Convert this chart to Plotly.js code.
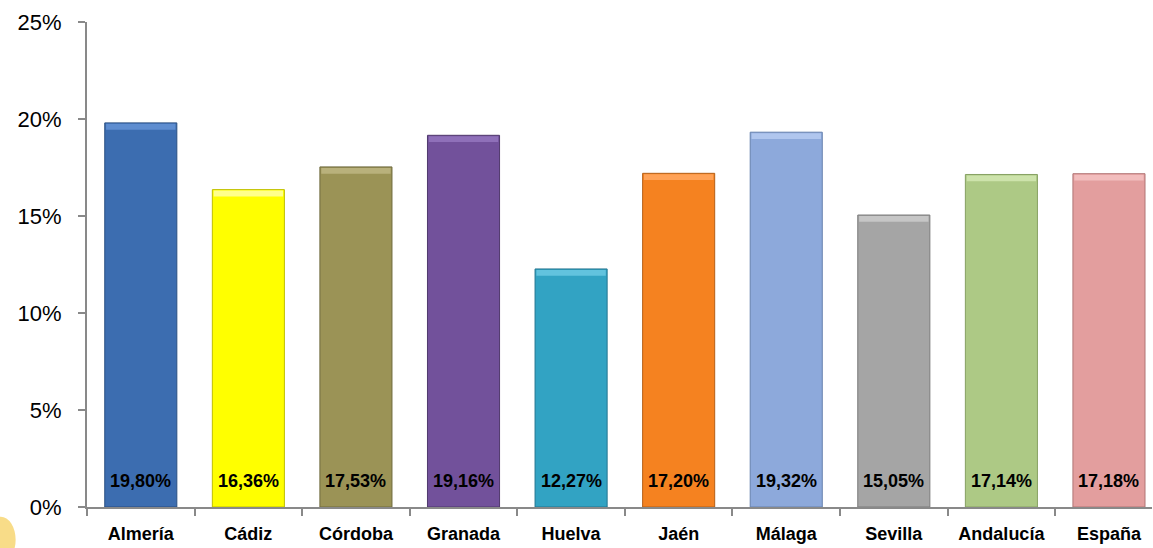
<!DOCTYPE html>
<html>
<head>
<meta charset="utf-8">
<script src="https://cdn.plot.ly/plotly-3.0.1.min.js"></script>
<style>html,body{margin:0;padding:0;background:#fff;}#chart{width:1153px;height:548px;}</style>
</head>
<body>
<div id="chart"></div>
<script>
const categories = ["Almería","Cádiz","Córdoba","Granada","Huelva","Jaén","Málaga","Sevilla","Andalucía","España"];
const values = [19.80, 16.36, 17.53, 19.16, 12.27, 17.20, 19.32, 15.05, 17.14, 17.18];
const valueLabels = ["19,80%","16,36%","17,53%","19,16%","12,27%","17,20%","19,32%","15,05%","17,14%","17,18%"];
const barColors = ["#3C6DB0","#FFFF00","#9B9356","#72519B","#32A3C3","#F58220","#8DA9DB","#A5A5A5","#ADC985","#E39E9E"];
const lineColors = ["#2A4F82","#BFBF00","#6F6A3D","#4F386C","#237590","#B45F17","#6680AD","#7A7A7A","#86A062","#B07474"];
const bevelColors = ["#5E8DD0","#FFFF8C","#B9B17C","#8F70B9","#62C3DE","#FFA257","#B0C6EE","#C6C6C6","#CDE3AB","#F2BDBD"];
const yTickVals = [0,5,10,15,20,25];
const yTickText = ["0%","5%","10%","15%","20%","25%"];

const bold = '"Liberation Sans", Arial, sans-serif';
const bevelDepth = 0.3;

const trace = {
  type: 'bar',
  x: categories,
  y: values,
  width: 0.67,
  marker: {color: barColors, line: {color: lineColors, width: 1}},
  hoverinfo: 'skip'
};

const bevel = {
  type: 'bar',
  x: categories,
  y: values.map(() => bevelDepth),
  base: values.map(v => v - bevelDepth - 0.05),
  width: 0.645,
  marker: {color: bevelColors, line: {width: 0}},
  hoverinfo: 'skip'
};

const annotations = categories.map((c, i) => ({
  x: c, y: 0, xref: 'x', yref: 'y',
  text: '<b>' + valueLabels[i] + '</b>',
  showarrow: false, yanchor: 'bottom', yshift: 14,
  font: {family: bold, size: 18, color: '#000'}
}));

const layout = {
  width: 1153, height: 548,
  margin: {l: 87, r: 1, t: 22, b: 41},
  paper_bgcolor: '#fff', plot_bgcolor: '#fff',
  showlegend: false,
  barmode: 'overlay',
  xaxis: {
    range: [-0.5, 9.4],
    showline: true, linecolor: '#898989', linewidth: 2,
    ticks: 'outside', tickson: 'boundaries', ticklen: 7, tickcolor: '#898989', tickwidth: 2,
    tickangle: 0,
    tickfont: {family: bold, size: 18, color: '#000', weight: 'bold'},
    ticklabelstandoff: 9,
    showgrid: false, zeroline: false, fixedrange: true
  },
  yaxis: {
    range: [0, 25],
    tickvals: yTickVals, ticktext: yTickText,
    showline: true, linecolor: '#898989', linewidth: 2,
    ticks: 'outside', ticklen: 7, tickcolor: '#898989', tickwidth: 2,
    tickfont: {family: bold, size: 22, color: '#000'},
    ticklabelstandoff: 12,
    showgrid: false, zeroline: false, fixedrange: true
  },
  annotations: annotations,
  shapes: [{
    type: 'circle', xref: 'paper', yref: 'paper', layer: 'above',
    x0: -0.095, x1: -0.067, y0: -0.115, y1: -0.02,
    fillcolor: '#F6D36A', line: {width: 0}, opacity: 0.8
  }]
};

Plotly.newPlot('chart', [trace, bevel], layout, {displayModeBar: false, staticPlot: true});
</script>
</body>
</html>
